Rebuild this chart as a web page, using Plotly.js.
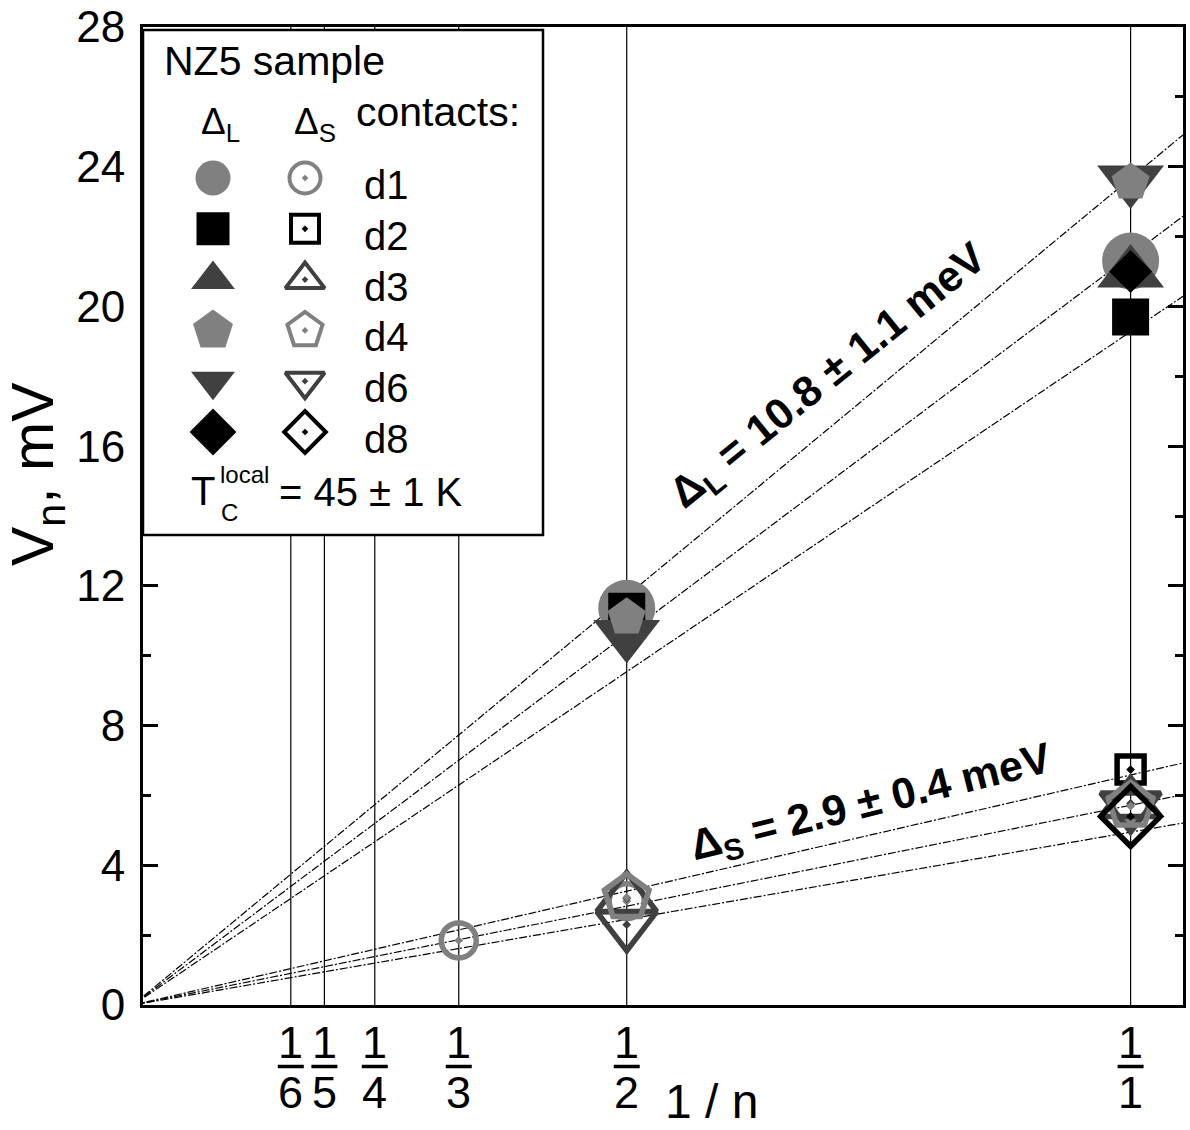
<!DOCTYPE html>
<html><head><meta charset="utf-8">
<script src="https://cdn.plot.ly/plotly-3.0.1.min.js"></script>
<style>html,body{margin:0;padding:0;background:#fff}</style>
</head><body>
<div id="chart" style="width:1190px;height:1130px"></div>
<script>
// ---------------- data ----------------
const contacts = ['d1', 'd2', 'd3', 'd4', 'd6', 'd8'];
// Delta_L (large gap) points: x = 1/n
const xL = [1/2, 1];
const vL_d1 = [11.36, 21.3];
const vL_d2 = [11.27, 19.7];
const vL_d3 = [null, 20.96];
const vL_d4 = [11.1, 23.55];
const vL_d6 = [10.61, 23.62];
const vL_d8 = [null, 21.0];
// Delta_S (small gap) points
const xS = [1/3, 1/2, 1];
const vS_d1 = [1.85, 2.97, 5.77];
const vS_d2 = [null, null, 6.74];
const vS_d3 = [null, 3.05, 5.77];
const vS_d4 = [null, 3.08, 5.70];
const vS_d6 = [null, 2.30, 5.70];
const vS_d8 = [null, null, 5.40];
// fit lines (start at y=0, end at right border)
const fitX = [0.01, 1.052];
const fitL_hi = [0, 24.91];
const fitL_mid = [0, 22.58];
const fitL_lo = [0, 20.29];
const fitS_hi = [0, 6.93];
const fitS_mid = [0, 6.02];
const fitS_lo = [0, 5.21];
// x tick fractions 1/n
const nDen = [6, 5, 4, 3, 2, 1];
const yTicks = [0, 4, 8, 12, 16, 20, 24, 28];

// ---------------- styles ----------------
const symbols = ['circle', 'square', 'triangle-up', 'pentagon', 'triangle-down', 'diamond'];
const colors = ['#808080', '#000000', '#404040', '#808080', '#404040', '#000000'];
const sizeL = [57, 37, 58, 40, 58, 33];
const sizeS = [35, 27, 52, 47, 52, 46];
const legSizeF = [35, 33, 38, 42, 38, 36];
const legSizeO = [31, 28, 34, 37, 34, 32];
const order = [0, 1, 2, 4, 3, 5];
const vL = [vL_d1, vL_d2, vL_d3, vL_d4, vL_d6, vL_d8];
const vS = [vS_d1, vS_d2, vS_d3, vS_d4, vS_d6, vS_d8];
const FONT = 'Liberation Sans, Arial, sans-serif';

const traces = [];
// fit lines
[fitL_hi, fitL_mid, fitL_lo, fitS_hi, fitS_mid, fitS_lo].forEach(fy => {
  traces.push({x: fitX, y: fy, mode: 'lines', type: 'scatter', showlegend: false,
    line: {color: '#000', width: 1.2, dash: '8px,2px,2px,2px'}, hoverinfo: 'skip'});
});
// Delta_L filled
order.forEach(i => {
  traces.push({x: xL, y: vL[i], mode: 'markers', type: 'scatter', name: contacts[i] + ' ΔL', showlegend: false,
    marker: {symbol: symbols[i], color: colors[i], size: sizeL[i], line: {width: 0}}});
});
// Delta_S open with dot
order.forEach(i => {
  traces.push({x: xS, y: vS[i], mode: 'markers', type: 'scatter', name: contacts[i] + ' ΔS', showlegend: false,
    marker: {symbol: symbols[i] + '-open-dot', color: colors[i], size: sizeS[i], line: {width: 5.5, color: colors[i]}}});
});

// legend samples on helper pixel axes (x2/y2)
const rowY = contacts.map((c, i) => 178 + i * 50.8);
contacts.forEach((c, i) => {
  traces.push({x: [213], y: [rowY[i]], xaxis: 'x2', yaxis: 'y2', mode: 'markers', type: 'scatter', showlegend: false,
    marker: {symbol: symbols[i], color: colors[i], size: legSizeF[i], line: {width: 0}}});
  traces.push({x: [305], y: [rowY[i]], xaxis: 'x2', yaxis: 'y2', mode: 'markers', type: 'scatter', showlegend: false,
    marker: {symbol: symbols[i] + '-open-dot', color: colors[i], size: legSizeO[i], line: {width: 4, color: colors[i]}}});
});

const py = p => (1005 - p) / 978;    // pixel row -> paper y
const pxp = p => (p - 143) / 1040;   // pixel column -> paper x

const shapes = [];
nDen.forEach(d => {
  shapes.push({type: 'line', xref: 'x', yref: 'y', x0: 1/d, x1: 1/d, y0: 0, y1: 28,
    line: {color: '#000', width: 1.2}, layer: 'below'});
});
// legend box (in helper pixel axes)
shapes.push({type: 'rect', xref: 'x2', yref: 'y2', x0: 143, x1: 543, y0: 30, y1: 535,
  line: {color: '#000', width: 2.5}, fillcolor: '#fff', layer: 'below'});
// fraction bars
nDen.forEach(d => {
  shapes.push({type: 'line', xref: 'x', yref: 'paper', xsizemode: 'pixel', xanchor: 1/d,
    x0: -13, x1: 13, y0: py(1066.5), y1: py(1066.5), line: {color: '#000', width: 3.5}});
});

const ann = [];
const txt = (text, x, y, size, extra) => Object.assign({text, x, y, xref: 'x2', yref: 'y2', showarrow: false,
  xanchor: 'left', yanchor: 'middle', font: {family: FONT, size: size, color: '#000'}}, extra || {});
ann.push(txt('NZ5 sample', 162, 61, 41));
ann.push(txt('Δ<sub>L</sub>', 199, 124, 37));
ann.push(txt('Δ<sub>S</sub>', 292, 124, 37));
ann.push(txt('contacts:', 354, 112, 41));
contacts.forEach((c, i) => ann.push(txt(c, 362, rowY[i] + 7, 40)));
ann.push(txt('T', 189, 491, 40));
ann.push(txt('local', 218, 474, 24));
ann.push(txt('C', 219, 512, 24));
ann.push(txt('= 45 ± 1 K', 277, 492, 40));
// slope labels
ann.push(txt('<b>Δ<sub>L</sub> = 10.8 ± 1.1 meV</b>', 829, 377, 43, {xanchor: 'center', textangle: -39}));
ann.push(txt('<b>Δ<sub>S</sub> = 2.9 ± 0.4 meV</b>', 871, 804, 43, {xanchor: 'center', textangle: -14}));
// axis titles (paper coordinates)
ann.push({text: 'V<sub>n</sub>, mV', x: pxp(37), y: py(474), xref: 'paper', yref: 'paper', showarrow: false,
  xanchor: 'center', yanchor: 'middle', textangle: -90, font: {family: FONT, size: 59, color: '#000'}});
ann.push({text: '1 / n', x: pxp(711), y: py(1101), xref: 'paper', yref: 'paper', showarrow: false,
  xanchor: 'center', yanchor: 'middle', font: {family: FONT, size: 48, color: '#000'}});
// fraction tick labels
nDen.forEach(d => {
  ann.push({text: '1', x: 1/d, y: py(1042), xref: 'x', yref: 'paper', showarrow: false,
    xanchor: 'center', yanchor: 'middle', font: {family: FONT, size: 45, color: '#000'}});
  ann.push({text: String(d), x: 1/d, y: py(1092), xref: 'x', yref: 'paper', showarrow: false,
    xanchor: 'center', yanchor: 'middle', font: {family: FONT, size: 45, color: '#000'}});
});

const layout = {
  width: 1190, height: 1130,
  margin: {l: 143, r: 7, t: 27, b: 125, pad: 0},
  paper_bgcolor: '#fff', plot_bgcolor: 'rgba(0,0,0,0)',
  showlegend: false,
  font: {family: FONT, color: '#000'},
  xaxis: {range: [0.02, 1.052], showgrid: false, zeroline: false, showline: true, mirror: true,
    linecolor: '#000', linewidth: 3, ticks: '', showticklabels: false, fixedrange: true},
  yaxis: {range: [0, 28], tickvals: yTicks, showgrid: false, zeroline: false, showline: true,
    mirror: 'allticks', linecolor: '#000', linewidth: 3, ticks: 'inside', ticklen: 15, tickwidth: 3,
    tickcolor: '#000', tickfont: {family: FONT, size: 44, color: '#000'}, ticklabelstandoff: 6,
    minor: {dtick: 2, tick0: 0, ticks: 'inside', ticklen: 8, tickwidth: 3, tickcolor: '#000', showgrid: false},
    fixedrange: true},
  xaxis2: {domain: [0, 1], anchor: 'y2', range: [143, 1183], visible: false, fixedrange: true},
  yaxis2: {domain: [0, 1], anchor: 'x2', range: [1005, 27], visible: false, fixedrange: true},
  shapes: shapes,
  annotations: ann
};

Plotly.newPlot('chart', traces, layout, {staticPlot: true, displayModeBar: false});
</script>
</body></html>
